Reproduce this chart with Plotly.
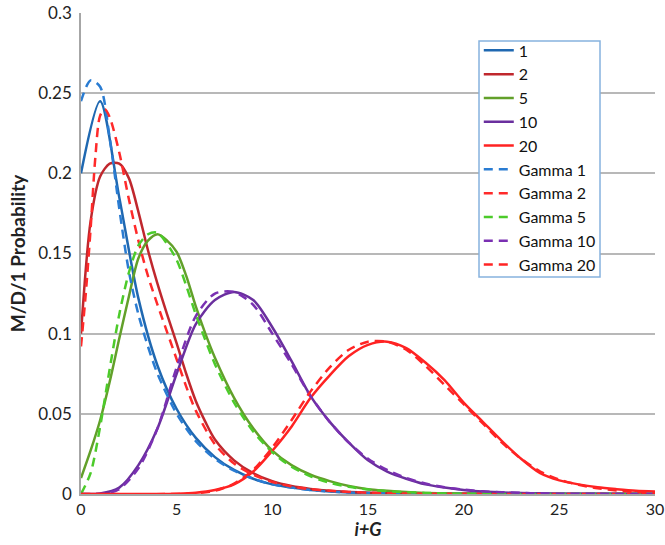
import plotly.graph_objects as go

# ---- data ----
x_m1 = [0, 1, 2, 3, 4, 5, 6, 7, 8, 9, 10, 11, 12, 13, 14, 15, 16, 18, 20, 25, 30]
y_m1 = [0.200, 0.245, 0.185, 0.122, 0.080, 0.053, 0.035, 0.023, 0.015, 0.0095, 0.006,
        0.004, 0.0025, 0.0016, 0.001, 0.0006, 0.0004, 0.0002, 0.0001, 0.0, 0.0]

x_m2 = [0, 0.5, 1, 1.5, 2, 2.5, 3, 3.5, 4, 4.5, 5, 5.5, 6, 6.5, 7, 8, 9, 10, 11, 12, 13,
        14, 15, 16, 18, 20, 25, 30]
y_m2 = [0.100, 0.170, 0.198, 0.206, 0.206, 0.197, 0.176, 0.152, 0.131, 0.112, 0.094, 0.075,
        0.058, 0.045, 0.034, 0.021, 0.013, 0.008, 0.005, 0.0032, 0.002, 0.0013, 0.0008,
        0.0005, 0.0002, 0.0001, 0.0, 0.0]

x_m5 = [0, 0.5, 1, 1.5, 2, 2.5, 3, 3.5, 4, 4.5, 5, 5.5, 6, 6.5, 7, 8, 9, 10, 11, 12, 13,
        14, 15, 16, 17, 18, 20, 25, 30]
y_m5 = [0.010, 0.027, 0.046, 0.070, 0.097, 0.123, 0.147, 0.158, 0.162, 0.158, 0.151, 0.136,
        0.117, 0.100, 0.085, 0.060, 0.041, 0.027, 0.018, 0.012, 0.008, 0.005, 0.003, 0.002,
        0.0012, 0.0007, 0.0002, 0.0, 0.0]

x_m10 = [0, 1, 2, 3, 4, 5, 6, 7, 8, 9, 10, 11, 12, 13, 14, 15, 16, 17, 18, 19, 20, 21, 22,
         23, 24, 25, 27, 30]
y_m10 = [0.0, 0.0003, 0.004, 0.018, 0.041, 0.075, 0.106, 0.121, 0.126, 0.121, 0.104, 0.083,
         0.061, 0.045, 0.032, 0.021, 0.014, 0.0095, 0.006, 0.004, 0.0025, 0.0015, 0.001,
         0.0006, 0.0004, 0.0002, 0.0001, 0.0]

x_m20 = [0, 4, 5, 6, 7, 8, 9, 10, 11, 12, 13, 14, 15, 16, 17, 18, 19, 20, 21, 22, 23, 24, 25,
         26, 27, 28, 29, 30]
y_m20 = [0.0, 0.0, 0.0002, 0.0008, 0.0025, 0.006, 0.014, 0.027, 0.042, 0.060, 0.074, 0.086,
         0.093, 0.095, 0.091, 0.082, 0.071, 0.057, 0.045, 0.033, 0.022, 0.013, 0.0085, 0.006,
         0.0042, 0.003, 0.002, 0.0015]

x_g1 = [0, 0.5, 1, 1.5, 2, 2.5, 3, 3.5, 4, 5, 6, 7, 8, 9, 10, 11, 12, 13, 14, 15, 16, 18,
        20, 25, 30]
y_g1 = [0.245, 0.258, 0.254, 0.222, 0.178, 0.139, 0.112, 0.092, 0.075, 0.050, 0.033, 0.022,
        0.0145, 0.0095, 0.006, 0.004, 0.0025, 0.0016, 0.001, 0.0006, 0.0004, 0.0002, 0.0001,
        0.0, 0.0]

x_g2 = [0, 0.25, 0.5, 0.75, 1, 1.25, 1.5, 2, 2.5, 3, 3.5, 4, 4.5, 5, 5.5, 6, 7, 8, 9, 10,
        11, 12, 13, 14, 15, 16, 18, 20, 25, 30]
y_g2 = [0.092, 0.125, 0.165, 0.210, 0.236, 0.240, 0.235, 0.213, 0.184, 0.158, 0.136, 0.118,
        0.101, 0.084, 0.067, 0.052, 0.031, 0.019, 0.012, 0.0075, 0.0047, 0.003, 0.002, 0.0013,
        0.0008, 0.0005, 0.0002, 0.0001, 0.0, 0.0]

x_g5 = [0, 0.5, 1, 1.5, 2, 2.5, 3, 3.5, 4, 4.5, 5, 5.5, 6, 6.5, 7, 8, 9, 10, 11, 12, 13, 14,
        15, 16, 17, 18, 20, 25, 30]
y_g5 = [0.0, 0.013, 0.042, 0.078, 0.112, 0.138, 0.155, 0.162, 0.163, 0.156, 0.146, 0.130,
        0.112, 0.096, 0.081, 0.057, 0.039, 0.026, 0.017, 0.011, 0.007, 0.0045, 0.0028,
        0.0018, 0.0011, 0.0007, 0.0002, 0.0, 0.0]

x_g10 = [0, 1, 1.5, 2, 3, 4, 5, 6, 7, 8, 9, 10, 11, 12, 13, 14, 15, 16, 17, 18, 19, 20, 21,
         22, 23, 24, 25, 27, 30]
y_g10 = [0.0, 0.0, 0.0008, 0.003, 0.016, 0.041, 0.079, 0.111, 0.125, 0.126, 0.118, 0.100,
         0.081, 0.061, 0.045, 0.032, 0.022, 0.015, 0.010, 0.0065, 0.0042, 0.0027, 0.0017,
         0.0011, 0.0007, 0.0004, 0.0002, 0.0001, 0.0]

x_g20 = [0, 5, 6, 7, 8, 9, 10, 11, 12, 13, 14, 15, 16, 17, 18, 19, 20, 21, 22, 23, 24, 25,
         26, 27, 28, 29, 30]
y_g20 = [0.0, 0.0, 0.0005, 0.002, 0.0065, 0.015, 0.029, 0.046, 0.064, 0.079, 0.090, 0.095,
         0.095, 0.090, 0.080, 0.068, 0.056, 0.044, 0.032, 0.022, 0.014, 0.009, 0.0058,
         0.0036, 0.0022, 0.0013, 0.0008]

series = [
    ("1", x_m1, y_m1, "#1F68B1", "solid"),
    ("2", x_m2, y_m2, "#C0272D", "solid"),
    ("5", x_m5, y_m5, "#62A02A", "solid"),
    ("10", x_m10, y_m10, "#6A2F9E", "solid"),
    ("20", x_m20, y_m20, "#FF2222", "solid"),
    ("Gamma 1", x_g1, y_g1, "#2A7CD2", "9px,6px"),
    ("Gamma 2", x_g2, y_g2, "#FF2A2A", "9px,6px"),
    ("Gamma 5", x_g5, y_g5, "#4CCB2A", "9px,6px"),
    ("Gamma 10", x_g10, y_g10, "#7A30B2", "9px,6px"),
    ("Gamma 20", x_g20, y_g20, "#FF2424", "9px,6px"),
]

fig = go.Figure()
for name, xs, ys, col, dash in series:
    fig.add_trace(go.Scatter(
        x=xs, y=ys, name=name, mode="lines",
        line=dict(color=col, width=2.5, dash=dash, shape="spline", smoothing=0.8),
    ))

# legend frame (white box with light-blue border)
fig.add_shape(type="rect", xref="paper", yref="paper",
              x0=0.6934, x1=0.9042, y0=0.4511, y1=0.9418,
              line=dict(color="#86B2DE", width=1.5), fillcolor="white", layer="above")

font_family = "Lato, 'Open Sans', sans-serif"
fig.update_layout(
    width=665, height=545,
    margin=dict(l=81, r=10, t=13, b=51, autoexpand=False),
    paper_bgcolor="white", plot_bgcolor="white",
    font=dict(family=font_family, size=17, color="#222222"),
    showlegend=True,
    legend=dict(
        x=0.693, y=0.9575, xanchor="left", yanchor="top",
        bgcolor="rgba(0,0,0,0)", borderwidth=0,
        font=dict(family=font_family, size=16, color="#111111"),
        tracegroupgap=0,
    ),
    xaxis=dict(
        range=[0, 30], tickmode="array", tickvals=[0, 5, 10, 15, 20, 25, 30],
        showgrid=False, zeroline=False, showline=True, linecolor="#A6A6A6", linewidth=1.5,
        ticks="", tickfont=dict(size=16, color="#222222"), ticklabeloverflow="allow",
        automargin=False,
        title=dict(text="<b><i>i+G</i></b>", font=dict(size=18, color="#222222"), standoff=5),
    ),
    yaxis=dict(
        range=[0, 0.3], tickmode="array",
        tickvals=[0, 0.05, 0.1, 0.15, 0.2, 0.25, 0.3],
        ticktext=["0", "0.05", "0.1", "0.15", "0.2", "0.25", "0.3"],
        showgrid=True, gridcolor="#B8B8B8", gridwidth=1.5,
        zeroline=False, showline=True, linecolor="#A6A6A6", linewidth=1.5,
        ticks="", tickfont=dict(size=17, color="#222222"), ticklabelstandoff=4,
        automargin=False,
        title=dict(text="<b>M/D/1 Probability</b>", font=dict(size=19, color="#222222"), standoff=8),
    ),
)

fig.write_html("out.html")
